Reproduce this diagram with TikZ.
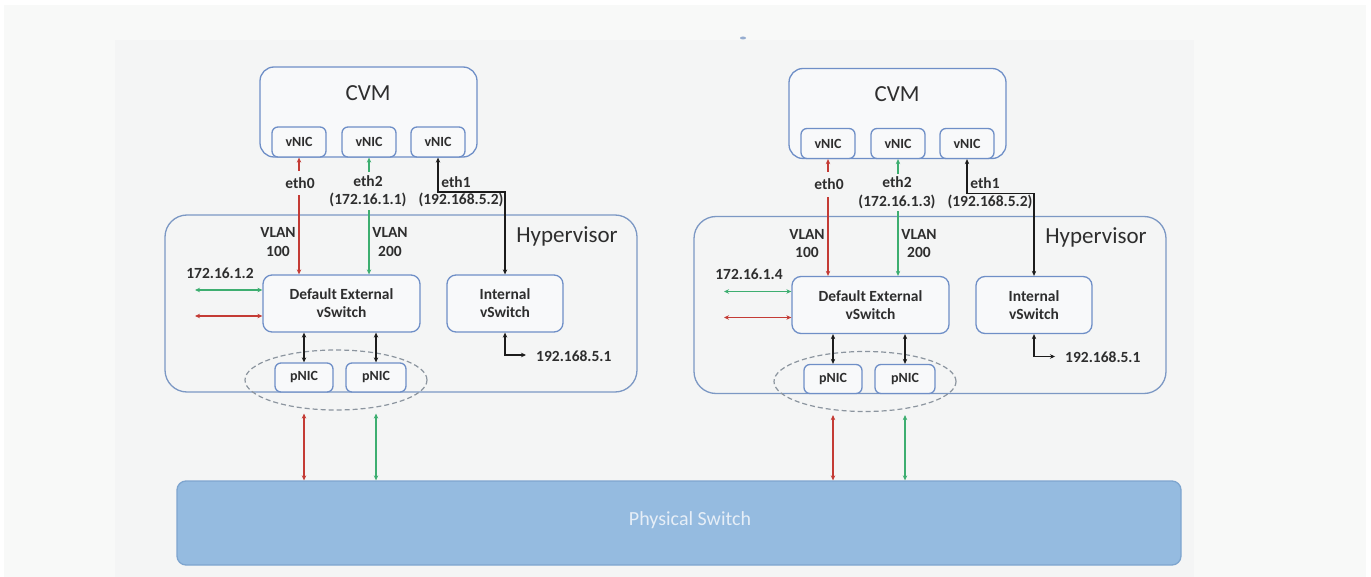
\documentclass[tikz,border=0pt]{standalone}
\usepackage{fontspec}
\setmainfont{Carlito}
\usetikzlibrary{arrows.meta,shapes.geometric}
\definecolor{outerbg}{HTML}{F8F9F8}
\definecolor{panel}{HTML}{F4F5F5}
\definecolor{boxfill}{HTML}{F8F9FA}
\definecolor{boxblue}{HTML}{6F8FC7}
\definecolor{hypblue}{HTML}{7C98C4}
\definecolor{txt}{HTML}{2E2E2E}
\definecolor{myred}{HTML}{C43B35}
\definecolor{mygreen}{HTML}{3DAE70}
\definecolor{myblack}{HTML}{1C1C1C}
\definecolor{psfill}{HTML}{95BBE0}
\definecolor{psline}{HTML}{7EA5CF}
\definecolor{pstext}{HTML}{E6EEF7}
\definecolor{dashgray}{HTML}{8C959F}
\tikzset{
  box/.style={draw=boxblue, line width=1.3pt, fill=boxfill, inner sep=0pt},
  nic/.style={box, rounded corners=6pt, minimum width=54pt, minimum height=30pt,
    font=\fontsize{14}{16}\selectfont\bfseries, text=txt},
  swbox/.style={box, rounded corners=9pt, minimum height=57pt, align=center,
    font=\fontsize{15.5}{18}\selectfont\bfseries, text=txt},
  lbl/.style={font=\fontsize{15.5}{18.5}\selectfont\bfseries, text=txt, inner sep=1pt, align=center},
  bigtxt/.style={font=\fontsize{23}{26}\selectfont, text=txt, inner sep=0pt},
  cable/.style={line width=1.3pt, {Stealth[length=5pt,width=4.5pt]}-{Stealth[length=5pt,width=4.5pt]}},
  redc/.style={cable, draw=myred},
  greenc/.style={cable, draw=mygreen, line width=1.1pt},
  blackc/.style={cable, draw=myblack, line width=1.6pt}
}
\newcommand\hostside[6]{%
\begin{scope}[shift={(#1,#2)}, name prefix=#5-]
  % hypervisor
  \node[draw=hypblue, line width=1.3pt, fill=panel, rounded corners=22pt, inner sep=0pt,
        minimum width=472pt, minimum height=177pt] (hyp) at (401,303.5) {};
  \node[bigtxt] (hypt) at (567,236) {Hypervisor};
  % CVM
  \node[box, rounded corners=14pt, minimum width=217pt, minimum height=90pt] (cvm) at (368.5,112) {};
  \node[bigtxt] (cvmt) at (368,93) {CVM};
  \node[nic] (v1) at (299,142) {vNIC};
  \node[nic] (v2) at (369,142) {vNIC};
  \node[nic] (v3) at (438,142) {vNIC};
  % switches
  \node[swbox, minimum width=157pt] (des) at (341.5,303.5) {Default External\\vSwitch};
  \node[swbox, minimum width=116pt] (is) at (505,303.5) {Internal\\vSwitch};
  % pNICs
  \node[nic, minimum width=58pt, minimum height=29pt] (p1) at (304,377.5) {pNIC};
  \node[nic, minimum width=60pt, minimum height=29pt] (p2) at (376,377.5) {pNIC};
  \node[draw=dashgray, line width=1.2pt, dash pattern=on 5pt off 3pt, ellipse, inner sep=0pt,
        minimum width=182pt, minimum height=60pt] (ell) at (336,380) {};
  % labels under the connectors
  \node[lbl] (eth1) at (456,182) {eth1};
  \node[lbl] (ip1) at (461,200) {(192.168.5.2)};
  % connectors
  \draw[redc] (v1.south) -- (v1.south |- des.north);
  \draw[greenc] (v2.south) -- (v2.south |- des.north);
  \coordinate (bend) at (505,192);
  \draw[blackc] (v3.south) |- (bend) -- (is.north);
  \coordinate (gl) at (195,290);
  \coordinate (rl) at (195,316);
  \draw[greenc] (gl) -- (gl -| des.west);
  \draw[redc] (rl) -- (rl -| des.west);
  \draw[blackc] (p1.north |- des.south) -- (p1.north);
  \draw[blackc] (p2.north |- des.south) -- (p2.north);
  \coordinate (ib) at (526,355);
  \draw[blackc] (is.south) |- (ib);
  % labels over the connectors
  \node[lbl, fill=panel, inner ysep=7pt] (eth0) at (300,183) {eth0};
  \node[lbl, fill=panel, inner ysep=3pt] (eth2) at (368,191) {eth2\\(#3)};
  \node[lbl] (vl1) at (278,242) {VLAN\\100};
  \node[lbl] (vl2) at (390,242) {VLAN\\200};
  \node[lbl] (extip) at (220,273) {#4};
  \node[lbl, anchor=west] (intip) at (535,356) {192.168.5.1};
\end{scope}}
\begin{document}
\begin{tikzpicture}[x=1pt,y=-1pt]
  \useasboundingbox (0,0) rectangle (1371,577);
  \fill[white] (0,0) rectangle (1371,577);
  \fill[outerbg] (4,5) rectangle (1366,577);
  \fill[panel] (115,40) rectangle (1194,577);
  \fill[hypblue!80] (743,38) ellipse (3pt and 1.5pt);
  \hostside{0}{0}{172.16.1.1}{172.16.1.2}{L}{}
  \hostside{529}{1.5}{172.16.1.3}{172.16.1.4}{R}{}
  % physical switch
  \node[draw=psline, line width=1.3pt, fill=psfill, rounded corners=9pt, inner sep=0pt,
        minimum width=1004pt, minimum height=84pt] (ps) at (679,523) {};
  \node[font=\fontsize{20}{24}\selectfont, text=pstext] (pst) at (690,520) {Physical Switch};
  % uplinks
  \draw[redc] ([yshift=-3pt]L-ell.south -| L-p1) -- (ps.north -| L-p1);
  \draw[greenc] ([yshift=-3pt]L-ell.south -| L-p2) -- (ps.north -| L-p2);
  \draw[redc] ([yshift=-3pt]R-ell.south -| R-p1) -- (ps.north -| R-p1);
  \draw[greenc] ([yshift=-3pt]R-ell.south -| R-p2) -- (ps.north -| R-p2);
\end{tikzpicture}
\end{document}
